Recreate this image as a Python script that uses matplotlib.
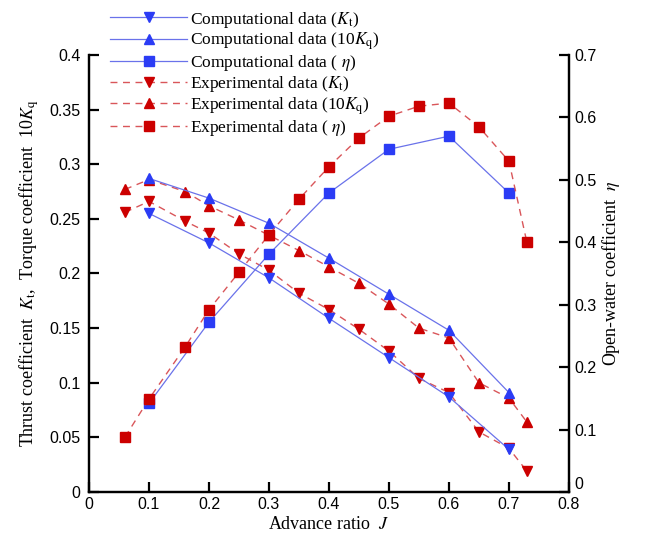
import numpy as np
import matplotlib
matplotlib.use("Agg")
import matplotlib.pyplot as plt

plt.rcParams["mathtext.fontset"] = "stix"

# Computational results
J_comp = [0.1, 0.2, 0.3, 0.4, 0.5, 0.6, 0.7]
kt_comp = [0.255, 0.228, 0.196, 0.159, 0.123, 0.087, 0.039]
kq10_comp = [0.287, 0.269, 0.246, 0.214, 0.181, 0.148, 0.091]
eta_comp = [0.142, 0.272, 0.381, 0.479, 0.549, 0.570, 0.479]

# Experimental results
J_exp = [0.06, 0.1, 0.16, 0.2, 0.25, 0.3, 0.35, 0.4, 0.45, 0.5, 0.55, 0.6, 0.65, 0.7, 0.73]
kt_exp = [0.256, 0.266, 0.248, 0.237, 0.218, 0.203, 0.182, 0.167, 0.149, 0.129,
          0.104, 0.091, 0.055, 0.040, 0.019]
kq10_exp = [0.277, 0.286, 0.275, 0.262, 0.249, 0.235, 0.221, 0.206, 0.191, 0.172,
            0.150, 0.141, 0.100, 0.086, 0.064]
eta_exp = [0.088, 0.149, 0.232, 0.292, 0.352, 0.412, 0.469, 0.521, 0.567, 0.602,
           0.618, 0.623, 0.585, 0.530, 0.400]

BLUE_LINE = "#6a72ea"
BLUE_MARK = "#2b3cf5"
RED_LINE = "#d9565a"
RED_MARK = "#cc0000"
SANS = "Liberation Sans"
SERIF = "Liberation Serif"

fig = plt.figure(figsize=(6.45, 5.42), dpi=100)
ax = fig.add_axes([0.138, 0.0923, 0.744, 0.8062])
ax2 = ax.twinx()

comp_kw = dict(color=BLUE_LINE, lw=0.9, markerfacecolor=BLUE_MARK,
               markeredgecolor=BLUE_MARK)
exp_kw = dict(color=RED_LINE, lw=1.0, dashes=(5, 4), markerfacecolor=RED_MARK,
              markeredgecolor=RED_MARK)

h1, = ax.plot(J_comp, kt_comp, marker="v", ms=7.5, zorder=3,
              label=r"Computational data ($K_\mathrm{t}$)", **comp_kw)
h2, = ax.plot(J_comp, kq10_comp, marker="^", ms=7.5, zorder=3,
              label=r"Computational data (10$K_\mathrm{q}$)", **comp_kw)
h3, = ax2.plot(J_comp, eta_comp, marker="s", ms=6.5, zorder=2,
               label=r"Computational data ( $\eta$)", **comp_kw)
h4, = ax.plot(J_exp, kt_exp, marker="v", ms=7.5, zorder=2,
              label=r"Experimental data ($K_\mathrm{t}$)", **exp_kw)
h5, = ax.plot(J_exp, kq10_exp, marker="^", ms=7.5, zorder=2,
              label=r"Experimental data (10$K_\mathrm{q}$)", **exp_kw)
h6, = ax2.plot(J_exp, eta_exp, marker="s", ms=6.5, zorder=3,
               label=r"Experimental data ( $\eta$)", **exp_kw)

ax.set_xlim(0, 0.8)
ax.set_ylim(0, 0.4)
ax2.set_ylim(0, 0.7)

xt = np.round(np.arange(0, 0.81, 0.1), 2)
ax.set_xticks(xt)
ax.set_xticklabels([f"{v:g}" for v in xt])
yt = np.round(np.arange(0, 0.401, 0.05), 2)
ax.set_yticks(yt)
ax.set_yticklabels([f"{v:g}" for v in yt])
yt2 = np.round(np.arange(0, 0.71, 0.1), 2)
ax2.set_yticks(yt2)
ax2.set_yticklabels([f"{v:g}" for v in yt2])

for a in (ax, ax2):
    a.spines["top"].set_visible(False)
    for s in a.spines.values():
        s.set_linewidth(1.6)
    a.tick_params(direction="in", length=7, width=1.6, labelsize=11.5)
    for lab in a.get_xticklabels() + a.get_yticklabels():
        lab.set_fontfamily(SANS)
ax.tick_params(axis="y", pad=6)
ax2.tick_params(axis="y", pad=4)
# the right-hand zero sits a little above the corner, clear of the "0.8"
ax2.get_yticklabels()[0].set_y(0.012)
ax2.get_yticklabels()[0].set_verticalalignment("bottom")

ax.set_xlabel(r"Advance ratio  $J$", family=SERIF, fontsize=13, labelpad=3)
ax.set_ylabel(r"Thrust coefficient  $K_\mathrm{t}$,  Torque coefficient  10$K_\mathrm{q}$",
              family=SERIF, fontsize=13, labelpad=6)
ax2.set_ylabel(r"Open-water coefficient  $\eta$", family=SERIF, fontsize=13,
               labelpad=2)

leg = ax.legend(handles=[h1, h2, h3, h4, h5, h6], loc="upper left",
                bbox_to_anchor=(0.03, 1.12), frameon=False,
                prop={"family": SERIF, "size": 12.5}, handlelength=4.4,
                handletextpad=0.2, labelspacing=0.06, borderaxespad=0)
leg.set_zorder(5)

fig.savefig("out.png", dpi=100)
